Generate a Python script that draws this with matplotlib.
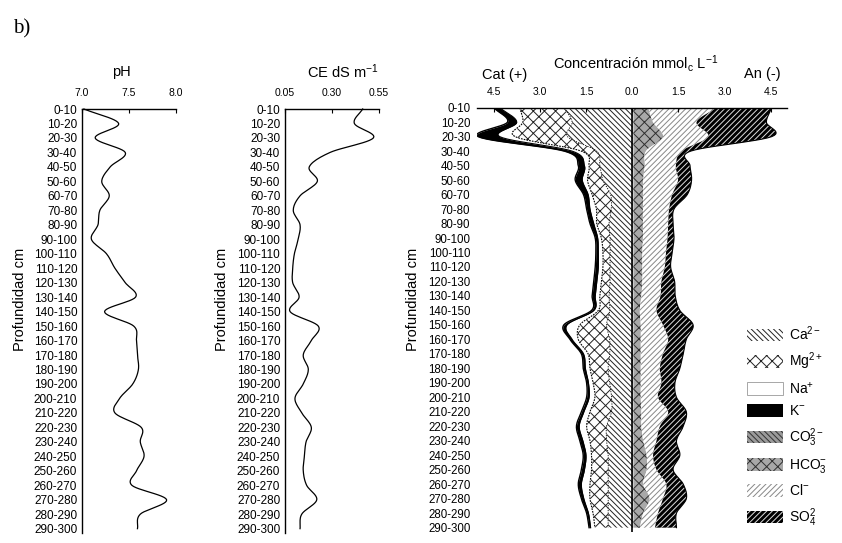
import numpy as np
import matplotlib
matplotlib.use('Agg')
import matplotlib.pyplot as plt
from matplotlib.patches import Patch

plt.rcParams['font.family'] = ['Liberation Sans', 'DejaVu Sans']
plt.rcParams['mathtext.fontset'] = 'custom'
plt.rcParams['mathtext.rm'] = 'Liberation Sans'
plt.rcParams['mathtext.it'] = 'Liberation Sans:italic'
plt.rcParams['mathtext.default'] = 'regular'
plt.rcParams['hatch.linewidth'] = 0.7

# ---------------- data ----------------
depth_labels = ["0-10", "10-20", "20-30", "30-40", "40-50", "50-60", "60-70", "70-80",
                "80-90", "90-100", "100-110", "110-120", "120-130", "130-140", "140-150",
                "150-160", "160-170", "170-180", "180-190", "190-200", "200-210", "210-220",
                "220-230", "230-240", "240-250", "250-260", "260-270", "270-280", "280-290",
                "290-300"]

ph = [7.02, 7.39, 7.14, 7.46, 7.30, 7.21, 7.29, 7.19, 7.17, 7.10,
      7.26, 7.35, 7.46, 7.57, 7.24, 7.55, 7.58, 7.59, 7.60, 7.54,
      7.40, 7.35, 7.63, 7.62, 7.66, 7.58, 7.53, 7.90, 7.62, 7.59]

ce = [0.463, 0.419, 0.520, 0.290, 0.179, 0.222, 0.130, 0.094, 0.130, 0.120,
      0.100, 0.091, 0.091, 0.125, 0.077, 0.227, 0.190, 0.147, 0.174, 0.147,
      0.103, 0.139, 0.190, 0.162, 0.153, 0.147, 0.165, 0.219, 0.139, 0.130]

# cations (mmolc/L)
ca = [2.20, 1.95, 2.10, 1.15, 1.05, 0.95, 0.70, 0.68, 0.75, 0.72,
      0.72, 0.72, 0.72, 0.75, 0.73, 0.83, 0.73, 0.73, 0.78, 0.73,
      0.67, 0.67, 0.83, 0.83, 0.78, 0.78, 0.78, 0.78, 0.78, 0.78]
mg = [1.45, 1.60, 1.70, 0.50, 0.35, 0.50, 0.60, 0.48, 0.40, 0.28,
      0.23, 0.23, 0.28, 0.30, 0.37, 0.87, 1.02, 0.70, 0.59, 0.54,
      0.54, 0.70, 0.65, 0.54, 0.54, 0.54, 0.59, 0.59, 0.49, 0.43]
na = [0.65, 0.20, 0.50, 0.30, 0.15, 0.17, 0.13, 0.21, 0.10, 0.12,
      0.15, 0.15, 0.15, 0.15, 0.15, 0.42, 0.20, 0.15, 0.15, 0.15,
      0.19, 0.20, 0.24, 0.23, 0.18, 0.23, 0.28, 0.20, 0.15, 0.14]
k = [0.20, 0.30, 0.70, 0.25, 0.20, 0.23, 0.15, 0.11, 0.12, 0.08,
     0.08, 0.10, 0.10, 0.10, 0.07, 0.10, 0.07, 0.07, 0.07, 0.06,
     0.08, 0.08, 0.09, 0.10, 0.09, 0.10, 0.10, 0.08, 0.06, 0.05]

# anions (mmolc/L)
co3 = [0.04, 0.04, 0.04, 0.04, 0.04, 0.04, 0.04, 0.04, 0.04, 0.04,
       0.04, 0.04, 0.04, 0.04, 0.04, 0.04, 0.04, 0.04, 0.04, 0.04,
       0.04, 0.04, 0.04, 0.04, 0.04, 0.04, 0.04, 0.04, 0.04, 0.04]
hco3 = [0.48, 0.64, 0.96, 0.41, 0.37, 0.32, 0.32, 0.31, 0.31, 0.31,
        0.29, 0.29, 0.29, 0.26, 0.21, 0.24, 0.24, 0.24, 0.24, 0.24,
        0.24, 0.26, 0.26, 0.32, 0.43, 0.43, 0.32, 0.53, 0.32, 0.21]
cl = [2.22, 1.41, 1.47, 1.15, 1.01, 1.13, 0.94, 0.85, 0.82, 0.80,
      0.77, 0.73, 0.62, 0.62, 0.54, 0.72, 0.89, 0.72, 0.62, 0.67,
      0.56, 0.87, 0.60, 0.43, 0.21, 0.32, 0.75, 0.43, 0.48, 0.49]
so4 = [1.79, 2.27, 2.06, 0.30, 0.46, 0.44, 0.49, 0.16, 0.16, 0.21,
       0.20, 0.19, 0.43, 0.48, 0.76, 0.98, 0.59, 0.66, 0.65, 0.44,
       0.60, 0.59, 0.76, 0.65, 0.87, 0.54, 0.55, 0.76, 0.60, 0.70]

ion_ticks = [-4.5, -3.0, -1.5, 0.0, 1.5, 3.0, 4.5]
ion_tick_labels = ["4.5", "3.0", "1.5", "0.0", "1.5", "3.0", "4.5"]
legend_labels = ["Ca$^{2-}$", "Mg$^{2+}$", "Na$^{+}$", "K$^{-}$",
                 "CO$_3^{2-}$", "HCO$_3^{-}$", "Cl$^{-}$", "SO$_4^{2}$"]


# ---------------- helpers ----------------
def smooth(v, n=12):
    """Catmull-Rom curve through the points (row index, value)."""
    v = np.asarray(v, float)
    y = np.arange(len(v), dtype=float)
    P = np.concatenate([[2 * v[0] - v[1]], v, [2 * v[-1] - v[-2]]])
    t = np.linspace(0, 1, n, endpoint=False)
    ys, vs = [], []
    for i in range(len(v) - 1):
        p0, p1, p2, p3 = P[i:i + 4]
        vv = 0.5 * ((2 * p1) + (-p0 + p2) * t + (2 * p0 - 5 * p1 + 4 * p2 - p3) * t ** 2
                    + (-p0 + 3 * p1 - 3 * p2 + p3) * t ** 3)
        ys.append(y[i] + t)
        vs.append(vv)
    ys.append([y[-1]])
    vs.append([v[-1]])
    return np.concatenate(ys), np.concatenate(vs)


W, H = 842, 543
fig = plt.figure(figsize=(W / 100, H / 100), dpi=100)


def add_ax(x0, x1, y0, y1):
    return fig.add_axes([x0 / W, 1 - y1 / H, (x1 - x0) / W, (y1 - y0) / H])


rows = np.arange(len(depth_labels))


def style_profile(ax):
    for s in ['right', 'bottom']:
        ax.spines[s].set_visible(False)
    for s in ['top', 'left']:
        ax.spines[s].set_linewidth(1.0)
    ax.xaxis.set_ticks_position('top')
    ax.tick_params(axis='x', direction='in', length=3, width=0.8, pad=8, labelsize=7.5)
    ax.set_yticks(rows, depth_labels)
    ax.tick_params(axis='y', length=0, pad=3.4, labelsize=8.5)
    ax.set_ylim(29.3, 0)


# ---- pH panel ----
ax1 = add_ax(82, 176, 109, 533)
style_profile(ax1)
ax1.set_xlim(7.0, 8.0)
ax1.set_xticks([7.0, 7.5, 8.0], ["7.0", "7.5", "8.0"])
yy, vv = smooth(ph)
ax1.plot(vv, yy, color='black', lw=0.9, clip_on=False)

# ---- CE panel ----
ax2 = add_ax(285, 379, 109, 533)
style_profile(ax2)
ax2.set_xlim(0.05, 0.55)
ax2.set_xticks([0.05, 0.30, 0.55], ["0.05", "0.30", "0.55"])
yy, vv = smooth(ce)
ax2.plot(vv, yy, color='black', lw=0.9, clip_on=False)

# ---- ions panel ----
ax3 = add_ax(476.7, 786.7, 107.7, 532)
for s in ['right', 'bottom', 'left']:
    ax3.spines[s].set_visible(False)
ax3.spines['top'].set_linewidth(1.0)
ax3.xaxis.set_ticks_position('top')
ax3.tick_params(axis='x', direction='in', length=3, width=0.8, pad=8, labelsize=7.5)
ax3.set_xticks(ion_ticks, ion_tick_labels)
ax3.set_yticks(rows, depth_labels)
ax3.tick_params(axis='y', length=0, pad=4.5, labelsize=8.3)
ax3.set_xlim(-5.05, 5.02)
ax3.set_ylim(29.3, 0)

cat_styles = [
    dict(facecolor='white', edgecolor='#222222', hatch='\\' * 6),
    dict(facecolor='white', edgecolor='#222222', hatch='xxx'),
    dict(facecolor='white', edgecolor='white', hatch=None),
    dict(facecolor='black', edgecolor='black', hatch=None),
]
an_styles = [
    dict(facecolor='#9a9a9a', edgecolor='#333333', hatch='\\' * 6),
    dict(facecolor='#a8a8a8', edgecolor='#303030', hatch='xxx'),
    dict(facecolor='white', edgecolor='#888888', hatch='/' * 6),
    dict(facecolor='black', edgecolor='#dddddd', hatch='/' * 6),
]

cum = np.zeros(len(rows))
bounds_c = []
for vals, st in zip([ca, mg, na, k], cat_styles):
    lo = cum.copy()
    cum = cum + np.asarray(vals)
    yl, sl = smooth(lo)
    yh, sh = smooth(cum)
    ax3.fill_betweenx(yl, -sl, -sh, lw=0, **st)
    bounds_c.append((yh, sh))

cum = np.zeros(len(rows))
bounds_a = []
for vals, st in zip([co3, hco3, cl, so4], an_styles):
    lo = cum.copy()
    cum = cum + np.asarray(vals)
    yl, sl = smooth(lo)
    yh, sh = smooth(cum)
    ax3.fill_betweenx(yl, sl, sh, lw=0, **st)
    bounds_a.append((yh, sh))

# outlines
yb, sb = bounds_c[0]
ax3.plot(-sb, yb, color='black', lw=0.6, ls=(0, (1.5, 1.5)))
yb, sb = bounds_c[1]
ax3.plot(-sb, yb, color='black', lw=0.8, ls=(0, (1.5, 1)))
yb, sb = bounds_c[2]
ax3.plot(-sb, yb, color='black', lw=0.8)
yb, sb = bounds_c[3]
ax3.plot(-sb, yb, color='black', lw=1.0)
yb, sb = bounds_a[3]
ax3.plot(sb, yb, color='black', lw=0.8)
ax3.axvline(0, color='black', lw=1.2)

handles = [Patch(lw=0, **st) for st in cat_styles[:2]]
handles.append(Patch(facecolor='white', edgecolor='#999999', lw=0.6))
handles.append(Patch(lw=0, **cat_styles[3]))
handles += [Patch(lw=0, **st) for st in an_styles]
ax3.legend(handles, legend_labels, loc='upper left',
           bbox_to_anchor=(747 / W, 1 - 324 / H), bbox_transform=fig.transFigure,
           frameon=False, handlelength=2.6, handleheight=1.0, labelspacing=0.58,
           borderpad=0, borderaxespad=0, handletextpad=0.4, fontsize=10)

# ---- texts ----
fig.text(13 / W, 1 - 29 / H, "b)", family=['Liberation Serif', 'DejaVu Serif'],
         fontsize=15, ha='left', va='center')
fig.text(121.7 / W, 1 - 71.7 / H, "pH", ha='center', va='center', fontsize=10.5)
fig.text(343 / W, 1 - 72 / H, "CE dS m$^{-1}$", ha='center', va='center', fontsize=10.5)
fig.text(636 / W, 1 - 63 / H, "Concentración mmol$_c$ L$^{-1}$", ha='center', va='center',
         fontsize=10.5)
fig.text(505 / W, 1 - 75 / H, "Cat (+)", ha='center', va='center', fontsize=10.5)
fig.text(762 / W, 1 - 74 / H, "An (-)", ha='center', va='center', fontsize=10.5)
for xp in [20, 222, 413]:
    fig.text(xp / W, 1 - 299 / H, "Profundidad cm", rotation=90, ha='center', va='center',
             fontsize=10.5)

fig.savefig("out.png", dpi=100)
